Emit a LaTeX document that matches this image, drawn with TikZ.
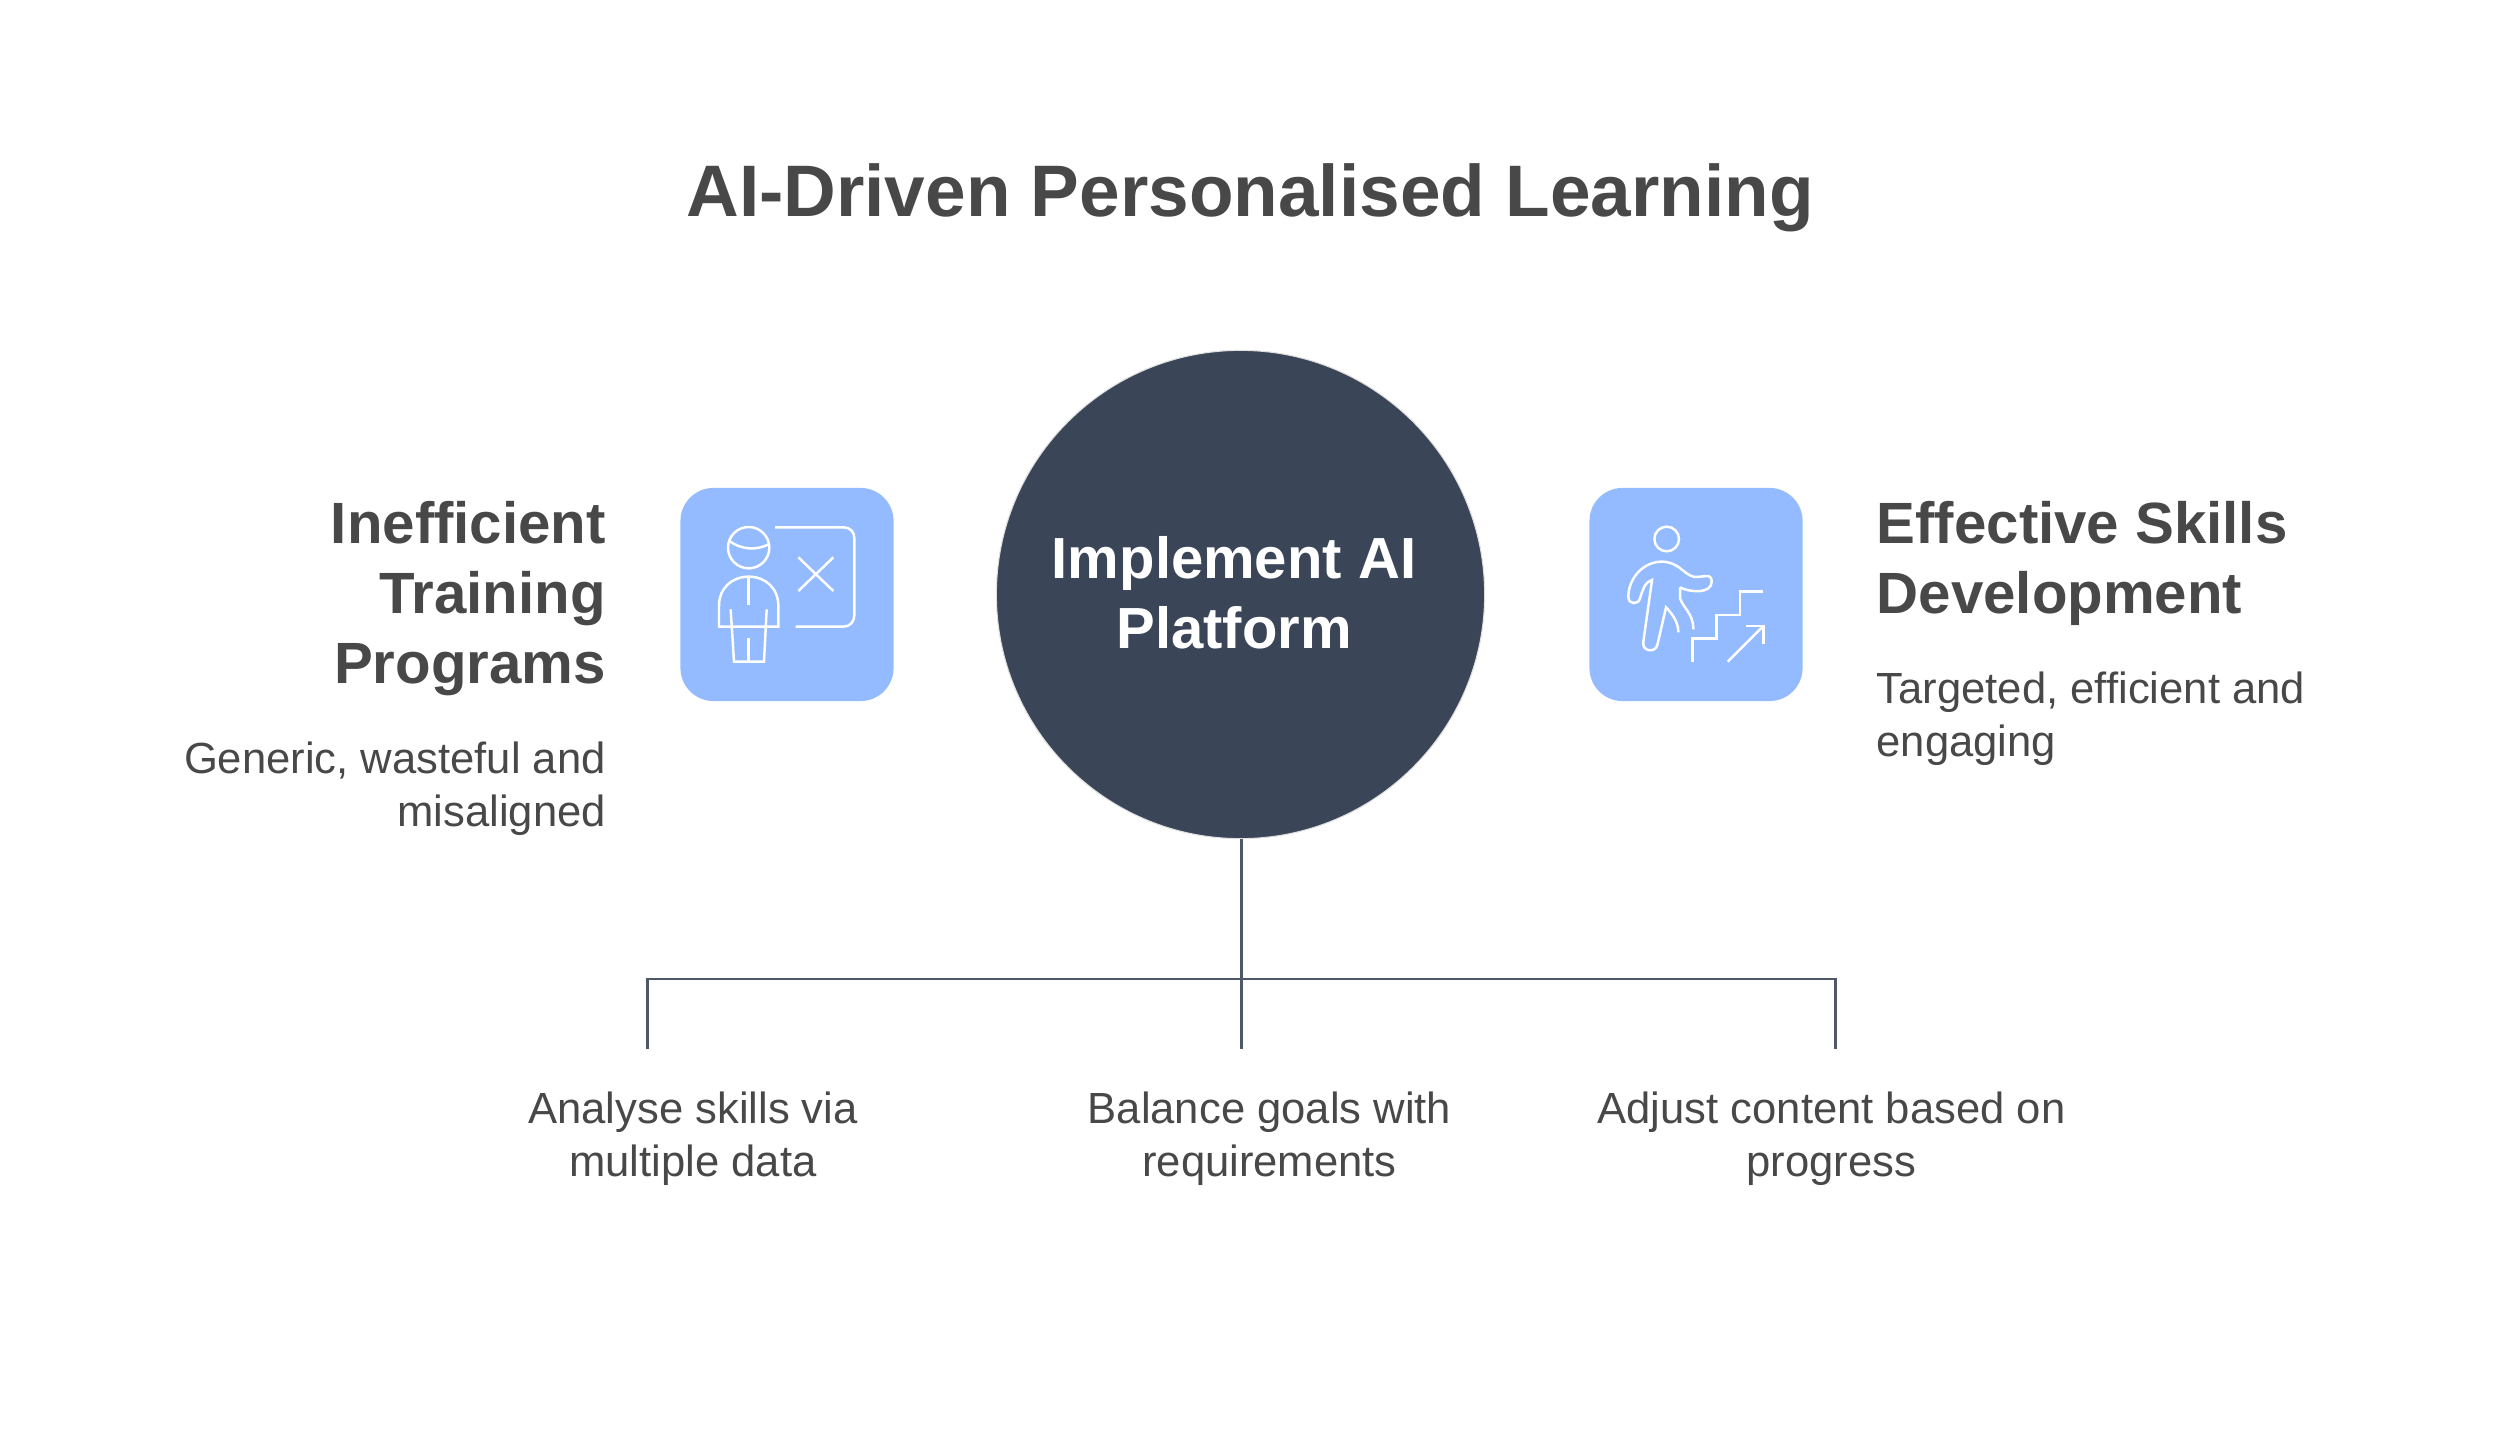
\documentclass[tikz,border=0pt]{standalone}
\usepackage{fontspec}
\setmainfont{Liberation Sans}
\usepackage{xcolor}
\definecolor{figslate}{HTML}{3B4558}
\definecolor{figblue}{HTML}{94BBFF}
\definecolor{figtext}{HTML}{484848}
\tikzset{
  titletext/.style={anchor=center,inner sep=0pt,text=figtext,font=\fontsize{20.75}{24}\selectfont\bfseries},
  hubnode/.style={circle,fill=figslate,draw=gray!25,line width=0.3pt,minimum size=4.88cm,inner sep=0pt},
  hubtext/.style={anchor=north,align=center,inner sep=0pt,text=white,font=\fontsize{16.5}{19.9}\selectfont\bfseries},
  iconbox/.style={rectangle,fill=figblue,rounded corners=0.33cm,minimum size=2.13cm,inner sep=0pt},
  headtext/.style={inner sep=0pt,text=figtext,font=\fontsize{16.55}{19.9}\selectfont\bfseries},
  desctext/.style={inner sep=0pt,text=figtext,font=\fontsize{12.4}{15.05}\selectfont},
  icon/.style={draw=white,line width=0.7pt},
  link/.style={draw=figslate!90,line width=0.85pt}
}

\begin{document}
\begin{tikzpicture}[x=0.01cm,y=-0.01cm]
    \useasboundingbox (0,0) rectangle (2500,1434);
    \node[titletext] (title) at (1250,198) {AI-Driven Personalised Learning};

    \node[hubnode] (hub) at (1240.5,594.5) {};
    \node[hubtext] (hublabel) at (1234,536) {Implement AI\\Platform};
    \node[iconbox] (leftbox) at (787,594.5) {};
    \node[iconbox] (rightbox) at (1696,594.5) {};

    \node[headtext,anchor=north east,align=right] (lefthead) at (606.5,501) {Inefficient\\Training\\Programs};
    \node[desctext,anchor=north east,align=right] (leftdesc) at (606.5,741) {Generic, wasteful and\\misaligned};
    \node[headtext,anchor=north west,align=left] (righthead) at (1876,501) {Effective Skills\\Development};
    \node[desctext,anchor=north west,align=left] (rightdesc) at (1876,671) {Targeted, efficient and\\engaging};

    % bus below the circle
    \coordinate (busl) at (647,979);
    \coordinate (busm) at (1241,979);
    \coordinate (busr) at (1835.5,979);
    \coordinate (dropl) at (647,1049);
    \coordinate (dropm) at (1241,1049);
    \coordinate (dropr) at (1835.5,1049);
    \draw[link] (hub.south -| busm) -- (dropm);
    \draw[link] (dropl) -- (busl) -- (busr) -- (dropr);

    \node[desctext,anchor=north,align=center] (itema) at (693,1091) {Analyse skills via\\multiple data};
    \node[desctext,anchor=north,align=center] (itemb) at (1269.5,1091) {Balance goals with\\requirements};
    \node[desctext,anchor=north,align=center] (itemc) at (1831.5,1091) {Adjust content based on\\progress};

    % teacher icon
    \begin{scope}[shift={(660,470)},scale=1/3]
      \draw[icon] (266,233) circle (62);
      \draw[icon] (208,213) .. controls (245,240) and (290,242) .. (328,222);
      \draw[icon] (345,172) -- (550,172) .. controls (570,172) and (583,185) .. (583,205) -- (583,435) .. controls (583,455) and (570,470) .. (550,470) -- (407,470);
      \draw[icon] (415,262) -- (520,363);
      \draw[icon] (520,262) -- (415,363);
      \draw[icon] (177,470) -- (177,408) .. controls (177,355) and (215,320) .. (266,320) .. controls (317,320) and (355,355) .. (355,408) -- (355,470) -- cycle;
      \draw[icon] (266,320) -- (266,405);
      \draw[icon] (212,418) -- (222,575) -- (312,575) -- (320,418);
      \draw[icon] (266,505) -- (266,575);
    \end{scope}

    % climbing icon
    \begin{scope}[shift={(1570,470)},scale=1/3]
      \draw[icon] (290,207) circle (37);
      \draw[icon] (330,352) .. controls (360,368) and (425,372) .. (425,335) .. controls (425,305) and (395,325) .. (370,320) .. controls (340,312) and (325,275) .. (275,275) .. controls (220,275) and (175,325) .. (175,380) .. controls (175,405) and (205,405) .. (210,385) .. controls (218,360) and (225,335) .. (246,330) -- (220,515) .. controls (215,545) and (255,550) .. (262,525) -- (288,412) .. controls (305,430) and (325,455) .. (325,487);
      \draw[icon] (330,352) -- (330,385) .. controls (340,415) and (370,430) .. (370,478);
      \draw[icon] (368,575) -- (368,505) -- (440,505) -- (440,435) -- (510,435) -- (510,365) -- (578,365);
      \draw[icon] (473,575) -- (580,468);
      \draw[icon] (527,468) -- (580,468) -- (580,522);
    \end{scope}
  \end{tikzpicture}
\end{document}
